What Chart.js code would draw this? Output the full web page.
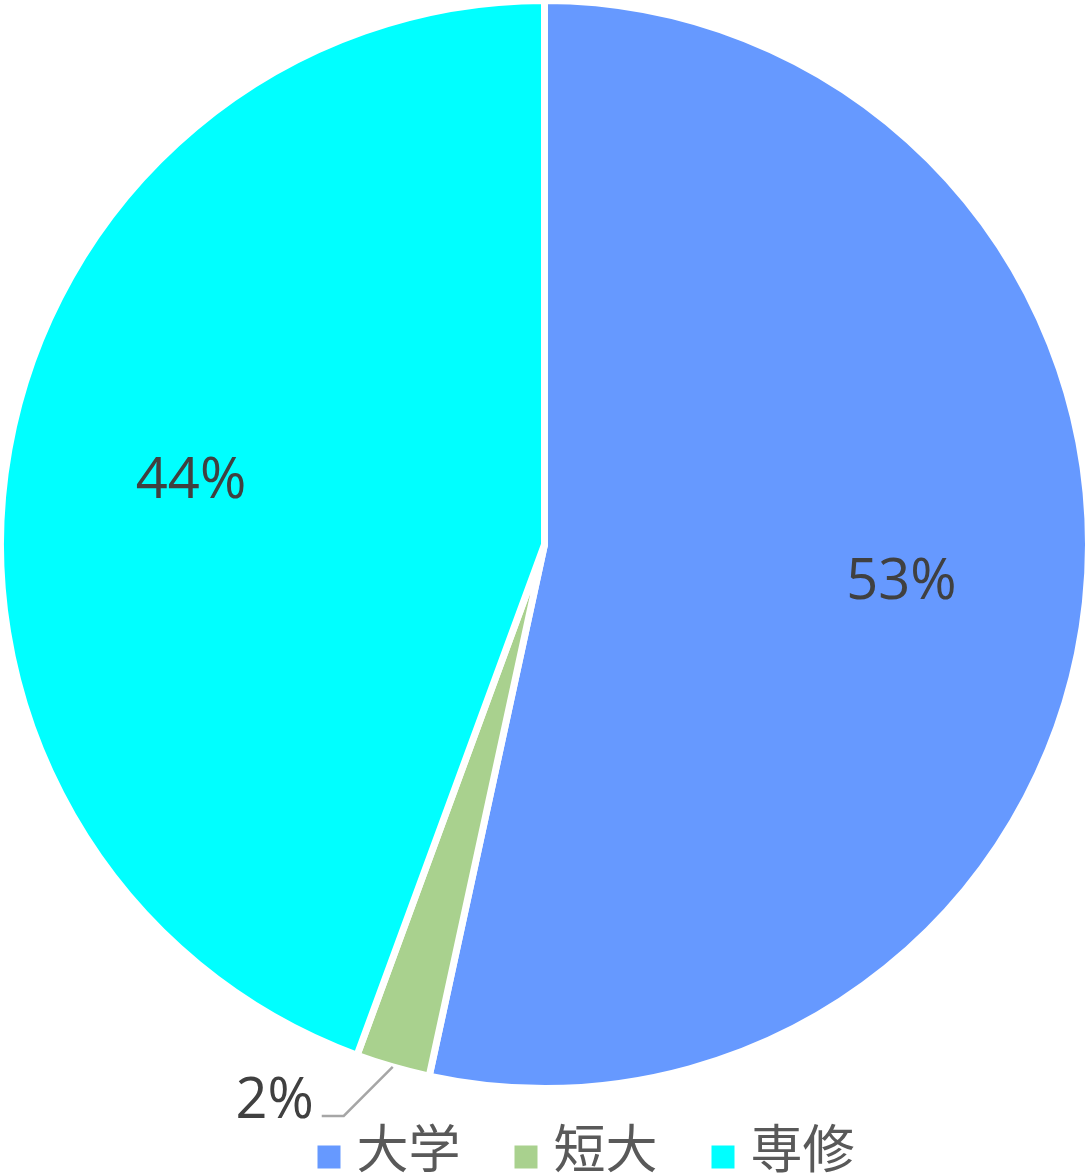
<!DOCTYPE html>
<html>
<head>
<meta charset="utf-8">
<script src="https://cdn.jsdelivr.net/npm/chart.js@4/dist/chart.umd.min.js"></script>
<style>
  html, body { margin: 0; padding: 0; background: #fff; overflow: hidden; }
  body { width: 1085px; height: 1175px; }
  /* canvas is a bit bigger than the page so the pie can touch the page edges */
  canvas { display: block; margin: -8px 0 0 -8px; }
</style>
</head>
<body>
<canvas id="chart" width="1105" height="1190"></canvas>
<script>
// data
const categories = ['大学', '短大', '専修'];
const shares = [53.4, 2.2, 44.4];
const sliceColors = ['#6699FF', '#A9D18E', '#00FFFF'];

const labelFont = '56px "Open Sans", "Noto Sans", sans-serif';
const legendFont = '52px "Noto Sans CJK JP", sans-serif';

// percentage labels: inside for big slices, outside with a leader for small ones
const pctLabels = {
  id: 'pctLabels',
  afterDatasetsDraw(chart) {
    const ctx = chart.ctx;
    const meta = chart.getDatasetMeta(0);
    const total = shares.reduce((a, b) => a + b, 0);
    ctx.save();
    ctx.font = labelFont;
    ctx.fillStyle = '#404040';
    meta.data.forEach((arc, i) => {
      const p = arc.getProps(['x', 'y', 'startAngle', 'endAngle', 'outerRadius'], true);
      const mid = (p.startAngle + p.endAngle) / 2;
      const pct = Math.round(shares[i] / total * 100);
      const text = pct + '%';
      if (pct >= 5) {
        const r = p.outerRadius * 0.66;
        ctx.textAlign = 'center';
        ctx.textBaseline = 'middle';
        ctx.fillText(text, p.x + Math.cos(mid) * r, p.y + Math.sin(mid) * r);
      } else {
        // leader line: from the rim, diagonal down-left, then a short horizontal
        const sx = p.x + Math.cos(mid) * p.outerRadius;
        const sy = p.y + Math.sin(mid) * p.outerRadius;
        const ex = sx - 49, ey = sy + 49;
        const hx = ex - 22;
        ctx.strokeStyle = '#A6A6A6';
        ctx.lineWidth = 2.5;
        ctx.beginPath();
        ctx.moveTo(sx, sy);
        ctx.lineTo(ex, ey);
        ctx.lineTo(hx, ey);
        ctx.stroke();
        ctx.textAlign = 'right';
        ctx.textBaseline = 'alphabetic';
        ctx.fillText(text, hx - 8, ey + 2);
      }
    });
    ctx.restore();
  }
};

// legend row under the pie
const bottomLegend = {
  id: 'bottomLegend',
  afterDraw(chart) {
    const ctx = chart.ctx;
    const box = 23, boxGap = 16, itemGap = 54;
    const centerX = 594, centerY = 1156;
    ctx.save();
    ctx.font = legendFont;
    const widths = categories.map(c => box + boxGap + ctx.measureText(c).width);
    const totalW = widths.reduce((a, b) => a + b, 0) + itemGap * (categories.length - 1);
    let x = centerX - totalW / 2;
    ctx.textBaseline = 'middle';
    ctx.textAlign = 'left';
    categories.forEach((c, i) => {
      ctx.fillStyle = sliceColors[i];
      ctx.fillRect(x, centerY + 9 - box / 2, box, box);
      ctx.fillStyle = '#595959';
      ctx.fillText(c, x + box + boxGap, centerY);
      x += widths[i] + itemGap;
    });
    ctx.restore();
  }
};

new Chart(document.getElementById('chart'), {
  type: 'pie',
  data: {
    labels: categories,
    datasets: [{
      data: shares,
      backgroundColor: sliceColors,
      borderColor: '#FFFFFF',
      borderWidth: 7
    }]
  },
  options: {
    responsive: false,
    animation: false,
    layout: { padding: { left: 5, top: 5, right: 5, bottom: 90 } },
    plugins: {
      legend: { display: false },
      tooltip: { enabled: false }
    }
  },
  plugins: [pctLabels, bottomLegend]
});
</script>
</body>
</html>
